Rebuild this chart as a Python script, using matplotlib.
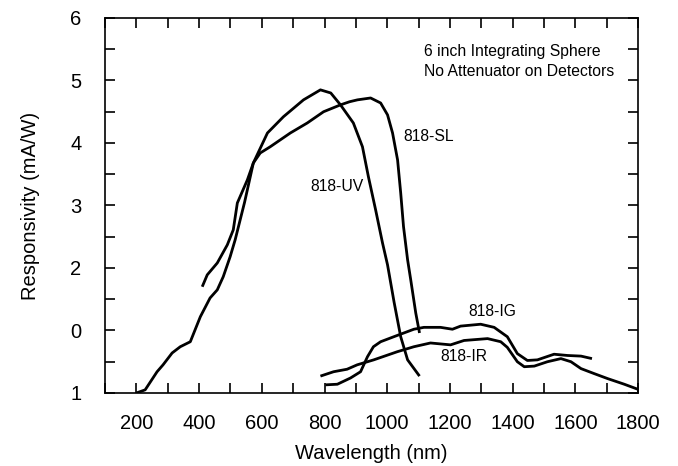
import matplotlib
matplotlib.use("Agg")
import matplotlib.pyplot as plt
from matplotlib.ticker import MultipleLocator

plt.rcParams['font.family'] = ['Liberation Sans', 'DejaVu Sans']

uv_x = [200, 228, 266, 285, 314, 340, 372, 404, 435, 458, 477, 499, 515, 545, 573, 618, 669, 733, 787, 820, 851, 892, 921, 940, 963, 985, 1001, 1022, 1043, 1065, 1103]
uv_y = [0.0, 0.05, 0.34, 0.45, 0.64, 0.74, 0.82, 1.22, 1.52, 1.65, 1.86, 2.18, 2.45, 3.05, 3.68, 4.16, 4.42, 4.69, 4.85, 4.80, 4.61, 4.32, 3.94, 3.46, 2.93, 2.40, 2.05, 1.45, 0.90, 0.53, 0.27]

sl_x = [410, 426, 458, 490, 509, 522, 554, 573, 595, 627, 691, 745, 797, 851, 880, 905, 947, 979, 1001, 1017, 1033, 1043, 1052, 1065, 1075, 1091, 1103]
sl_y = [1.70, 1.89, 2.08, 2.37, 2.61, 3.04, 3.41, 3.68, 3.84, 3.94, 4.16, 4.32, 4.50, 4.61, 4.66, 4.69, 4.72, 4.64, 4.45, 4.16, 3.73, 3.20, 2.66, 2.13, 1.81, 1.28, 0.96]

ig_x = [803, 841, 883, 915, 937, 956, 979, 1021, 1085, 1117, 1170, 1208, 1234, 1298, 1341, 1383, 1415, 1447, 1479, 1532, 1575, 1618, 1653]
ig_y = [0.13, 0.14, 0.24, 0.34, 0.58, 0.74, 0.82, 0.90, 1.02, 1.05, 1.05, 1.02, 1.07, 1.10, 1.05, 0.90, 0.63, 0.52, 0.53, 0.62, 0.60, 0.59, 0.55]

ir_x = [787, 829, 872, 904, 957, 1032, 1085, 1138, 1202, 1245, 1320, 1362, 1383, 1415, 1437, 1469, 1511, 1554, 1586, 1618, 1660, 1703, 1756, 1799]
ir_y = [0.27, 0.34, 0.38, 0.45, 0.53, 0.66, 0.74, 0.80, 0.77, 0.84, 0.87, 0.82, 0.73, 0.50, 0.42, 0.43, 0.50, 0.55, 0.50, 0.39, 0.31, 0.23, 0.14, 0.06]

x_ticks = [200, 400, 600, 800, 1000, 1200, 1400, 1600, 1800]
y_ticks = [0, 1, 2, 3, 4, 5, 6]
y_labels = ['1', '0', '2', '3', '4', '5', '6']

fig = plt.figure(figsize=(6.78, 4.66), dpi=100)
ax = fig.add_axes([0.1549, 0.1567, 0.7862, 0.8047])

for xs, ys in [(uv_x, uv_y), (sl_x, sl_y), (ig_x, ig_y), (ir_x, ir_y)]:
    ax.plot(xs, ys, color='black', lw=2.0, solid_capstyle='butt', solid_joinstyle='round')

ax.set_xlim(100, 1800)
ax.set_ylim(0, 6)
ax.set_xticks(x_ticks)
ax.xaxis.set_minor_locator(MultipleLocator(100))
ax.set_yticks(y_ticks)
ax.set_yticklabels(y_labels)
ax.yaxis.set_minor_locator(MultipleLocator(0.5))
ax.tick_params(which='both', direction='in', top=True, right=True, length=7, width=1.2, labelsize=14.5)
ax.tick_params(axis='x', which='both', pad=15)
ax.tick_params(axis='y', which='both', pad=17)
for s in ax.spines.values():
    s.set_linewidth(1.2)

ax.set_xlabel('Wavelength (nm)', fontsize=14.5, labelpad=8)
ax.set_ylabel('Responsivity (mA/W)', fontsize=14.5, labelpad=22)

fs = 11.3
ax.text(1116, 5.46, '6 inch Integrating Sphere', fontsize=fs, va='center', ha='left')
ax.text(1116, 5.15, 'No Attenuator on Detectors', fontsize=fs, va='center', ha='left')
ax.text(1052, 4.11, '818-SL', fontsize=fs, va='center', ha='left')
ax.text(755, 3.31, '818-UV', fontsize=fs, va='center', ha='left')
ax.text(1260, 1.31, '818-IG', fontsize=fs, va='center', ha='left')
ax.text(1170, 0.58, '818-IR', fontsize=fs, va='center', ha='left')

fig.savefig('out.png', dpi=100)
